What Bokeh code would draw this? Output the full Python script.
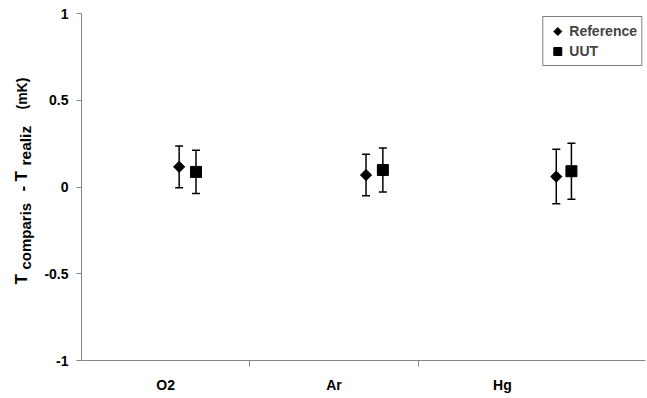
import math
from bokeh.plotting import figure
from bokeh.layouts import row
from bokeh.models import (Range1d, FixedTicker, ColumnDataSource, Whisker, TeeHead,
                          Legend, LegendItem, Label)
from bokeh.embed import file_html
from bokeh.resources import INLINE

# ---- data ----
categories = ["O2", "Ar", "Hg"]
ref_x = [0.58, 1.69, 2.82]
ref_y = [0.116, 0.069, 0.060]
ref_err = [0.120, 0.120, 0.157]
uut_x = [0.68, 1.79, 2.91]
uut_y = [0.087, 0.098, 0.091]
uut_err = [0.125, 0.127, 0.161]
y_ticks = [-1, -0.5, 0, 0.5, 1]
y_tick_labels = ["-1", "-0.5", "0", "0.5", "1"]
cat_centers = [0.5, 1.5, 2.5]
cat_bounds = [1, 2]

FONT = "Liberation Sans"
GRAY = "#868686"

W, H = 647, 398
LW = 40                      # width of the strip holding the y-axis title
BL, BR, BT, BB = 81 - LW, 2, 13, 38
X0, X1, Y0, Y1 = 0, 3.35, -1, 1

p = figure(width=W - LW, height=H, x_range=Range1d(X0, X1), y_range=Range1d(Y0, Y1),
           output_backend="svg", toolbar_location=None,
           min_border_left=BL, min_border_right=BR, min_border_top=BT, min_border_bottom=BB)
p.outline_line_color = None
p.background_fill_color = "white"
p.border_fill_color = "white"

p.xgrid.visible = False
p.ygrid.ticker = FixedTicker(ticks=[1])
p.ygrid.grid_line_color = GRAY
p.ygrid.grid_line_width = 1

ya = p.yaxis[0]
ya.ticker = FixedTicker(ticks=y_ticks)
ya.major_label_overrides = {t: l for t, l in zip(y_ticks, y_tick_labels)}
ya.axis_line_color = GRAY
ya.major_tick_line_color = GRAY
ya.major_tick_out = 5
ya.major_tick_in = 0
ya.minor_tick_line_color = None
ya.major_label_standoff = 8
ya.major_label_text_font = FONT
ya.major_label_text_font_style = "bold"
ya.major_label_text_font_size = "14px"
ya.major_label_text_color = "black"

xa = p.xaxis[0]
xa.ticker = FixedTicker(ticks=cat_centers, minor_ticks=cat_bounds)
xa.major_label_overrides = {c: n for c, n in zip(cat_centers, categories)}
xa.axis_line_color = GRAY
xa.major_tick_line_color = None
xa.major_tick_out = 0
xa.major_tick_in = 0
xa.minor_tick_line_color = GRAY
xa.minor_tick_out = 6
xa.minor_tick_in = 0
xa.major_label_standoff = 10
xa.major_label_text_font = FONT
xa.major_label_text_font_style = "bold"
xa.major_label_text_font_size = "14px"
xa.major_label_text_color = "black"

for xs, ys, es in ((ref_x, ref_y, ref_err), (uut_x, uut_y, uut_err)):
    src = ColumnDataSource(dict(x=xs,
                                upper=[y + e for y, e in zip(ys, es)],
                                lower=[y - e for y, e in zip(ys, es)]))
    w = Whisker(base="x", upper="upper", lower="lower", source=src,
                line_color="black", line_width=1.5,
                upper_head=TeeHead(size=8, line_color="black", line_width=1.5),
                lower_head=TeeHead(size=8, line_color="black", line_width=1.5))
    p.add_layout(w)

r_ref = p.ngon(x=ref_x, y=ref_y, radius=5.6, radius_units="screen", n=4, angle=0,
               fill_color="black", line_color="black")
r_uut = p.scatter(x=uut_x, y=uut_y, marker="square", size=11,
                  fill_color="black", line_color="black")

legend = Legend(items=[LegendItem(label="Reference", renderers=[r_ref]),
                       LegendItem(label="UUT", renderers=[r_uut])],
                location="top_right")
legend.label_text_font = FONT
legend.label_text_font_style = "bold"
legend.label_text_font_size = "14px"
legend.border_line_color = "black"
legend.border_line_width = 1
legend.padding = 4
legend.spacing = 0
legend.margin = 3
legend.glyph_width = 20
legend.glyph_height = 20
legend.label_standoff = 2
legend.label_height = 20
p.add_layout(legend)

# ---- y-axis title strip (rotated text with subscripts) ----
# its frame is aligned with the main frame (rows align top/bottom borders), so the
# y range is set so that y = H - pixel_row
lab = figure(width=LW, height=H, x_range=Range1d(0, LW), y_range=Range1d(BB, H - BT),
             output_backend="svg", toolbar_location=None,
             x_axis_type=None, y_axis_type=None,
             min_border_left=0, min_border_right=0, min_border_top=BT, min_border_bottom=BB)
lab.outline_line_color = None
lab.grid.visible = False
lab.background_fill_color = "white"
lab.border_fill_color = "white"

# (text, font px, baseline column px, start row px) -- the title reads upward
pieces = [("T", 17, 20.5, 284), ("comparis", 15, 25.0, 269), ("-", 17, 21.0, 191),
          ("T", 17, 20.5, 181), ("realiz", 15.5, 25.0, 165), ("(mK)", 14, 21.5, 109)]
for txt, fs, bx, start in pieces:
    lab.add_layout(Label(x=bx, y=H - start, text=txt, angle=90, angle_units="deg",
                         text_font=FONT, text_font_style="bold", text_font_size=f"{fs}px",
                         text_color="black", text_align="left", text_baseline="alphabetic"))

layout = row(lab, p)
open("out.html", "w").write(file_html(layout, INLINE))
